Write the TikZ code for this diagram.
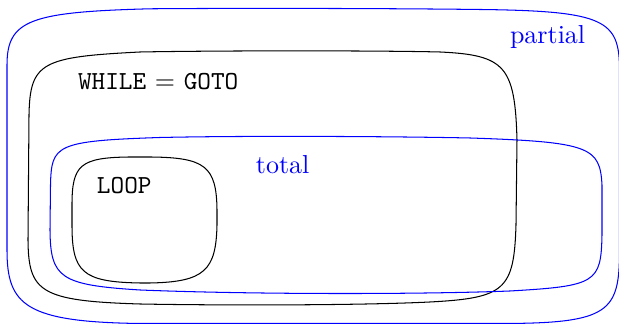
\documentclass[tikz,border=0pt]{standalone}
\begin{document}
\begin{tikzpicture}[x=0.3846pt,y=-0.3846pt,
  region/.style={line width=0.4pt},
  lbl/.style={anchor=base west,inner sep=0pt,outer sep=0pt}]
\useasboundingbox (0,0) rectangle (619,324);
% partial
\draw[region,blue] (7,150) -- (7,65) .. controls (7,20) and (30,12) .. (150,8.8)
  .. controls (250,8) and (400,8.5) .. (480,9.5)
  .. controls (605,11) and (619.5,20) .. (619.5,70) -- (619.5,250)
  .. controls (619.5,312) and (610,323.5) .. (500,323.5) -- (140,323.5)
  .. controls (25,322) and (7,305) .. (7,250) -- cycle;
% WHILE = GOTO
\draw[region] (28,240) -- (29,115) .. controls (30,62) and (42,57) .. (140,52)
  .. controls (220,50.5) and (380,50.5) .. (440,52)
  .. controls (505,55) and (515,66) .. (517,140) -- (516,225)
  .. controls (514,290) and (505,298) .. (430,302)
  .. controls (360,305.5) and (220,305.5) .. (140,304)
  .. controls (40,301) and (28.5,292) .. (28,240) -- cycle;
% total
\draw[region,blue] (50,230) -- (50.5,185) .. controls (51.5,145) and (55,141) .. (160,137.5)
  .. controls (250,135.5) and (400,136.5) .. (470,138)
  .. controls (590,142) and (600,147) .. (602,185) -- (602,235)
  .. controls (601,283) and (596,286) .. (510,291)
  .. controls (420,294.5) and (250,294.5) .. (140,290)
  .. controls (60,285) and (50.5,278) .. (50,230) -- cycle;
% LOOP
\draw[region] (72,225) -- (72,205) .. controls (72,165) and (80,157.5) .. (130,157) -- (150,157)
  .. controls (205,157.5) and (216.5,166) .. (217,210) -- (217,225)
  .. controls (216,270) and (205,282) .. (150,283) -- (140,283)
  .. controls (82,282) and (72,272) .. (72,225) -- cycle;
\node[lbl] (while) at (78,90) {\texttt{WHILE} $=$ \texttt{GOTO}};
\node[lbl,text=blue] (partial) at (510,44) {partial};
\node[lbl,text=blue] (total) at (256,174) {total};
\node[lbl] (loop) at (97,194) {\texttt{LOOP}};
\end{tikzpicture}
\end{document}
